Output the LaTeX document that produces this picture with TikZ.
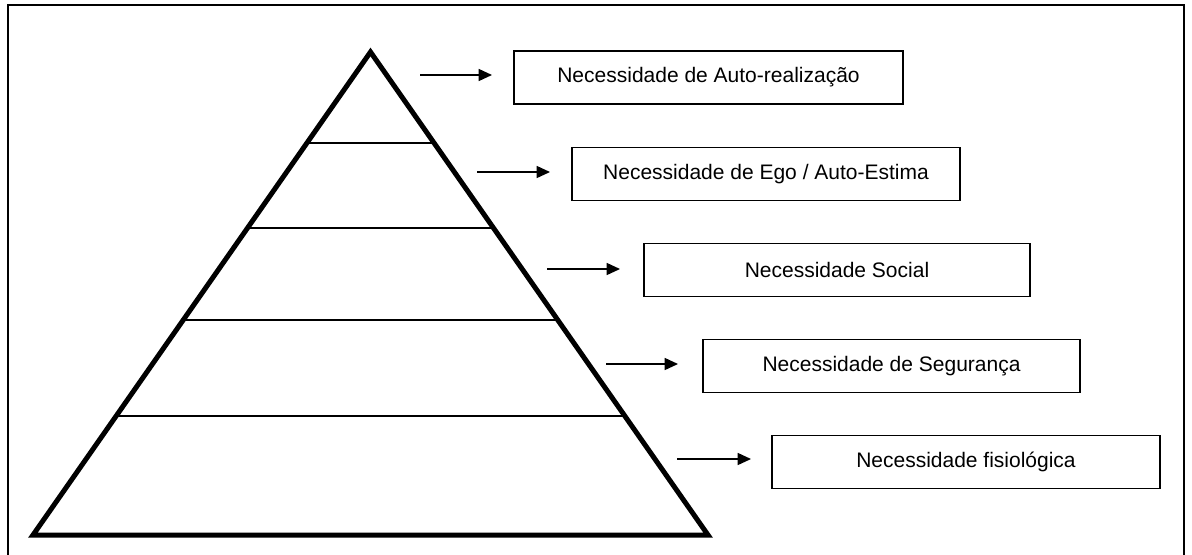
\documentclass[tikz,border=0pt]{standalone}
\usepackage{fontspec}
\setmainfont{Liberation Sans}
\usetikzlibrary{arrows.meta,calc}
\begin{document}
\begin{tikzpicture}[x=0.75pt,y=-0.75pt,
  tier/.style={line width=1.1pt},
  need/.style={draw,line width=1pt,minimum width=#1*0.75pt,minimum height=39.75pt,
    inner sep=0pt,font=\fontsize{15.75}{18}\selectfont},
  pointer/.style={line width=1.1pt,-{Triangle[length=10pt,width=9pt]}}]
\useasboundingbox (0,0) rectangle (1192,554);
% page frame, open at the bottom
\begin{scope}
  \clip (0,0) rectangle (1192,554);
  \draw[line width=1.6pt] (8,600) -- (8,5) -- (1184,5) -- (1184,600);
\end{scope}
% pyramid
\coordinate (T) at (370.5,52);
\coordinate (L) at (33,535);
\coordinate (R) at (708,535);
\foreach \yy in {143,228,320,416}{
  \draw[tier] ($(L)!{(535-\yy)/483}!(T)$) -- ($(R)!{(535-\yy)/483}!(T)$);
}
\draw[line width=3.75pt,line join=miter] (L) -- (T) -- (R) -- cycle;
% need labels
\node[need=389] (b1) at (708.5,77.5) {Necessidade de Auto-realização};
\node[need=388] (b2) at (766,174) {Necessidade de Ego / Auto-Estima};
\node[need=386] (b3) at (837,270) {Necessidade Social};
\node[need=377] (b4) at (891.5,366) {Necessidade de Segurança};
\node[need=388] (b5) at (966,462) {Necessidade fisiológica};
% arrows
\coordinate (s1) at (420,75);  \coordinate (e1) at (492,75);
\coordinate (s2) at (477,172); \coordinate (e2) at (550,172);
\coordinate (s3) at (547,269); \coordinate (e3) at (620,269);
\coordinate (s4) at (606,364); \coordinate (e4) at (678,364);
\coordinate (s5) at (677,459); \coordinate (e5) at (751,459);
\foreach \i in {1,...,5}{\draw[pointer] (s\i) -- (e\i);}
\end{tikzpicture}
\end{document}
